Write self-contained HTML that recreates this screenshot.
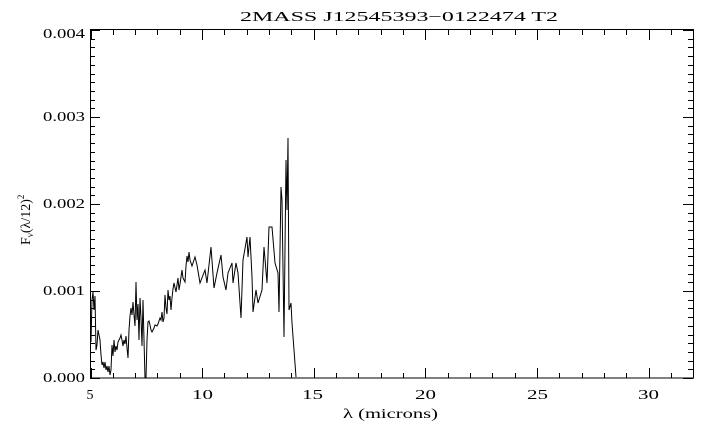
<!DOCTYPE html>
<html><head><meta charset="utf-8"><style>
html,body{margin:0;padding:0;background:#fff;}
svg{display:block;}
text{font-family:"Liberation Serif",serif;font-size:14px;fill:#000;}
</style></head><body>
<svg width="720" height="439" viewBox="0 0 720 439" xmlns="http://www.w3.org/2000/svg">
<rect x="0" y="0" width="720" height="439" fill="#fff"/>
<text x="240" y="21" font-size="16" textLength="318" lengthAdjust="spacingAndGlyphs">2MASS J12545393−0122474 T2</text>
<rect x="90.5" y="29.5" width="603" height="348.5" fill="none" stroke="#000" stroke-width="1"/>
<g id="ticks" stroke="#000" stroke-width="1"></g>
<g font-size="14">
<text x="90" y="399" text-anchor="middle">5</text>
<text x="192" y="399" textLength="21" lengthAdjust="spacingAndGlyphs">10</text>
<text x="302" y="399" textLength="21" lengthAdjust="spacingAndGlyphs">15</text>
<text x="415" y="399" textLength="21" lengthAdjust="spacingAndGlyphs">20</text>
<text x="527" y="399" textLength="21" lengthAdjust="spacingAndGlyphs">25</text>
<text x="638" y="399" textLength="21" lengthAdjust="spacingAndGlyphs">30</text>
<text x="43" y="382" textLength="42" lengthAdjust="spacingAndGlyphs">0.000</text>
<text x="43" y="295" textLength="42" lengthAdjust="spacingAndGlyphs">0.001</text>
<text x="43" y="208" textLength="42" lengthAdjust="spacingAndGlyphs">0.002</text>
<text x="43" y="121" textLength="42" lengthAdjust="spacingAndGlyphs">0.003</text>
<text x="43" y="38" textLength="42" lengthAdjust="spacingAndGlyphs">0.004</text>
</g>
<text x="343" y="418" font-size="15" textLength="95" lengthAdjust="spacingAndGlyphs">λ (microns)</text>
<text transform="translate(30,245) rotate(-90)" font-size="13">F<tspan font-size="9" dy="3">ν</tspan><tspan dy="-3">(λ/12)</tspan><tspan font-size="9" dy="-6">2</tspan></text>
<polyline fill="none" stroke="#000" stroke-width="1" points="91,342 92,300 93,292 94,310 95,296 96,350 97,345 98,330 100,340 101,355 102,365 103,362 104,368 105,362 106,370 107,366 108,372 109,366 110,375 111,370 112,345 113,356 114,340 115,352 116,346 117,350 118,342 120,338 121,335 122,340 123,346 124,340 125,344 126,336 127,348 128,358 129,330 130,316 131,308 132,315 133,302 134,315 135,326 136,282 137,320 138,304 139,340 140,298 141,318 142,346 143,300 144,340 145,378 146,378 147,340 148,322 149,321 150,325 151,330 152,332 154,328 155,325 157,326 158,324 160,318 161,320 162,312 163,322 164,318 165,295 166,308 167,314 168,290 169,300 170,296 171,310 172,298 173,289 174,283 176,292 178,278 179,290 180,284 182,270 183,278 185,282 186,266 187,256 188,262 189,252 190,260 192,266 195,257 197,265 200,283 205,270 207,283 211,247 214,288 217,273 221,255 223,277 226,290 228,273 232,263 233,283 236,263 238,273 241,318 243,260 247,237 248,257 250,237 252,277 253,312 256,290 258,303 262,290 264,247 267,283 269,227 272,227 275,263 278,273 279,312 281,187 282,200 284,337 286,160 287,210 288,138 289,310 291,303 292,323 294,350 296,377"/>
</svg>
<script>
var g=document.getElementById('ticks'),s='';
function L(a,b,c,d){s+='<line x1="'+a+'" y1="'+b+'" x2="'+c+'" y2="'+d+'"/>';}
for(var v=5;v<=32;v++){var x=90.5+(v-5)*22.32;x=Math.round(x)+0.5;var m=(v%5==0)?10:5;L(x,378,x,378-m);L(x,30,x,30+m);}
for(var i=0;i<=40;i++){var y=378-i*8.7;y=Math.round(y)+0.5;var m=(i%10==0)?10:5;L(90,y,90+m,y);L(693,y,693-m,y);}
g.innerHTML=s;
</script>
</body></html>
